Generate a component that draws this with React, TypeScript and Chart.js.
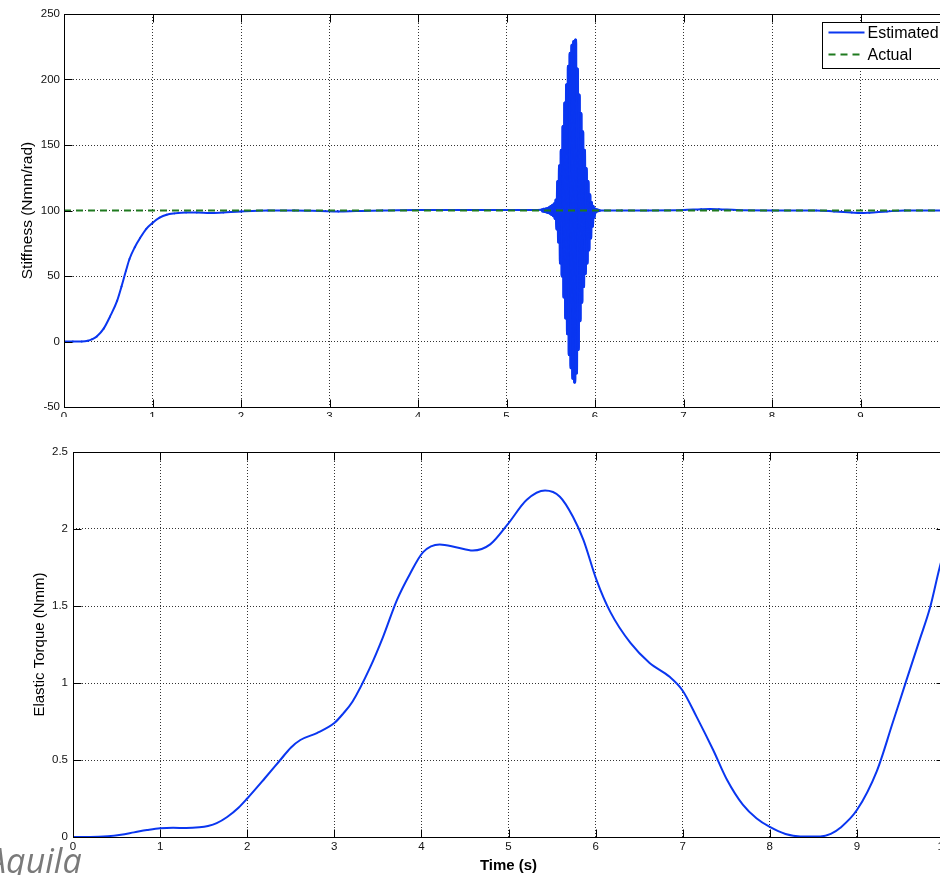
import React, { useEffect, useRef } from "react";
import { Chart, registerables } from "chart.js";

Chart.register(...registerables);

// ---------- tick values & labels ----------
const timeTicks = [0, 1, 2, 3, 4, 5, 6, 7, 8, 9, 10];
const timeTickLabels = ["0", "1", "2", "3", "4", "5", "6", "7", "8", "9", "10"];
const stiffTicks = [-50, 0, 50, 100, 150, 200, 250];
const stiffTickLabels = ["-50", "0", "50", "100", "150", "200", "250"];
const torqueTicks = [0, 0.5, 1, 1.5, 2, 2.5];
const torqueTickLabels = ["0", "0.5", "1", "1.5", "2", "2.5"];

// ---------- top plot: estimated stiffness ----------
const estTime = [
  0, 0.1, 0.2, 0.27, 0.32, 0.37, 0.45, 0.52, 0.6, 0.65, 0.7, 0.74, 0.8, 0.86, 0.93, 1.0, 1.08, 1.16, 1.25, 1.38,
  1.5, 1.65, 1.8, 2.0, 2.3, 2.6, 2.9, 3.1, 3.3, 3.6, 4.0, 4.5, 5.0, 5.3,
  5.40, 5.41, 5.42, 5.43, 5.44, 5.45, 5.46, 5.47, 5.48, 5.49,
  5.50, 5.51, 5.52, 5.53, 5.54, 5.55, 5.56, 5.57, 5.58, 5.59,
  5.60, 5.61, 5.62, 5.63, 5.64, 5.65, 5.66, 5.67, 5.68, 5.69,
  5.70, 5.71, 5.72, 5.73, 5.74, 5.75, 5.76, 5.77, 5.78, 5.79,
  5.80, 5.81, 5.82, 5.83, 5.84, 5.85, 5.86, 5.87, 5.88, 5.89,
  5.90, 5.91, 5.92, 5.93, 5.94, 5.95, 5.96, 5.97, 5.98, 5.99,
  6.00, 6.01, 6.02, 6.03, 6.04, 6.05,
  6.3, 6.6, 7.0, 7.2, 7.3, 7.4, 7.6, 8.0, 8.5, 8.7, 8.9, 9.0, 9.1, 9.3, 9.5, 10,
];
const estStiffness = [
  0, 0, 0, 0.5, 1.8, 3.8, 10, 19, 31, 42, 54, 63, 72, 79, 86, 90.5, 94.5, 96.8, 97.8, 98.5,
  98.5, 98, 98.5, 99.3, 100, 100, 99.6, 99.3, 99.6, 100, 100.3, 100.3, 100.3, 100.3,
  100.5, 99.6, 100.8, 99.3, 101, 99, 101.5, 98.5, 102, 98,
  103, 97, 104, 96, 105, 94, 108, 86, 122, 76,
  134, 60, 146, 50, 164, 34, 182, 18, 196, 6,
  210, -10, 220, -20, 226, -28, 229, -31, 230, -24,
  208, -6, 188, 16, 174, 30, 160, 42, 146, 52,
  132, 60, 122, 70, 112, 79, 106, 88, 103, 95,
  101, 99, 100.5, 99.8, 100.2, 100,
  100, 100, 100.3, 101, 101.2, 101, 100.3, 100, 100, 99.3, 98.4, 98, 98.3, 99.3, 100, 100,
];
const actualTime = [0, 10];
const actualStiffness = [100, 100];

// ---------- bottom plot: elastic torque ----------
const torqueTime = [
  0, 0.2, 0.4, 0.55, 0.7, 0.85, 1.0, 1.15, 1.3, 1.45, 1.55, 1.65, 1.77, 1.9, 2.0, 2.2, 2.38, 2.5,
  2.61, 2.8, 3.0, 3.1, 3.21, 3.41, 3.56, 3.72, 3.87, 4.02, 4.21, 4.41, 4.59, 4.79, 4.99, 5.21,
  5.42, 5.59, 5.74, 5.86, 6.01, 6.17, 6.4, 6.62, 6.85, 7.0, 7.16, 7.35, 7.51, 7.69, 7.85, 8.0,
  8.18, 8.35, 8.58, 8.7, 8.81, 9.0, 9.23, 9.41, 9.57, 9.72, 9.84, 9.95, 10.0,
];
const torqueValue = [
  0, 0, 0.005, 0.015, 0.03, 0.045, 0.057, 0.06, 0.058, 0.063, 0.072, 0.09, 0.13, 0.19, 0.25, 0.38, 0.5, 0.58,
  0.63, 0.675, 0.74, 0.8, 0.88, 1.1, 1.3, 1.54, 1.71, 1.85, 1.9, 1.88, 1.86, 1.9, 2.03, 2.19,
  2.25, 2.21, 2.08, 1.93, 1.67, 1.46, 1.26, 1.13, 1.04, 0.95, 0.78, 0.565, 0.37, 0.21, 0.12, 0.065,
  0.02, 0.004, 0.004, 0.02, 0.06, 0.175, 0.43, 0.74, 1.02, 1.28, 1.49, 1.75, 1.85,
];

// time window of the dense oscillation (drawn with a slightly wider pen so it renders solid)
const burstStart = 5.4;
const burstEnd = 6.05;

const FONT = "'Liberation Sans', Arial, Helvetica, sans-serif";
const BLUE_A = "#0a36f0";
const BLUE_B = "#0a36f1";

const toPoints = (xs: number[], ys: number[]) => xs.map((x, i) => ({ x, y: ys[i] }));

const matlabAxes = {
  id: "matlabAxes",
  afterDatasetsDraw(chart: any) {
    const { ctx, chartArea: a, scales } = chart;
    const xs = scales.x;
    const ys = scales.y;
    const L = Math.round(a.left) + 0.5;
    const R = Math.round(a.right) + 0.5;
    const T = Math.round(a.top) + 0.5;
    const B = Math.round(a.bottom) + 0.5;
    const len = 8;
    ctx.save();
    ctx.setLineDash([]);
    ctx.strokeStyle = "#000";
    ctx.lineWidth = 1;
    ctx.strokeRect(L, T, R - L, B - T);
    ctx.beginPath();
    xs.ticks.forEach((t: any) => {
      const p = Math.round(xs.getPixelForValue(t.value)) + 0.5;
      ctx.moveTo(p, B);
      ctx.lineTo(p, B - len);
      ctx.moveTo(p, T);
      ctx.lineTo(p, T + len);
    });
    ys.ticks.forEach((t: any) => {
      const p = Math.round(ys.getPixelForValue(t.value)) + 0.5;
      ctx.moveTo(L, p);
      ctx.lineTo(L + len, p);
      ctx.moveTo(R, p);
      ctx.lineTo(R - len, p);
    });
    ctx.stroke();
    ctx.restore();
  },
};

const boxLegend = {
  id: "boxLegend",
  afterDraw(chart: any) {
    const { ctx } = chart;
    const sets = chart.data.datasets;
    const bx = 822.5;
    const by = 22.5;
    const bw = 130;
    const bh = 46;
    ctx.save();
    ctx.fillStyle = "#fff";
    ctx.fillRect(bx, by, bw, bh);
    ctx.strokeStyle = "#000";
    ctx.lineWidth = 1;
    ctx.setLineDash([]);
    ctx.strokeRect(bx, by, bw, bh);
    ctx.font = `16px ${FONT}`;
    ctx.textBaseline = "middle";
    ctx.textAlign = "left";
    sets.forEach((ds: any, i: number) => {
      const yy = by + 10 + i * 22;
      ctx.beginPath();
      ctx.strokeStyle = ds.borderColor;
      ctx.lineWidth = 2;
      ctx.setLineDash(ds.borderDash || []);
      ctx.moveTo(bx + 6, yy);
      ctx.lineTo(bx + 42, yy);
      ctx.stroke();
      ctx.setLineDash([]);
      ctx.fillStyle = "#000";
      ctx.fillText(ds.label, bx + 45, yy + 1);
    });
    ctx.restore();
  },
};

function makeTicks(values: number[], labels: string[]) {
  return {
    afterBuildTicks: (scale: any) => {
      scale.ticks = values.map((v) => ({ value: v }));
    },
    labelFor: (value: number) => {
      const i = values.findIndex((v) => Math.abs(v - value) < 1e-9);
      return i >= 0 ? labels[i] : "";
    },
  };
}

function axisBase(min: number, max: number, values: number[], labels: string[], padding: number, size: number, horizontal: boolean) {
  const t = makeTicks(values, labels);
  return {
    type: "linear",
    min,
    max,
    afterBuildTicks: t.afterBuildTicks,
    afterFit: (scale: any) => {
      if (horizontal) scale.height = size;
      else scale.width = size;
    },
    grid: {
      color: "rgba(0,0,0,0.8)",
      lineWidth: 1,
      drawTicks: false,
    },
    border: { display: false, dash: [1, 2] },
    ticks: {
      autoSkip: false,
      maxRotation: 0,
      padding,
      color: "#111",
      font: { family: FONT, size: 11.5 },
      callback: (v: any) => t.labelFor(Number(v)),
    },
  };
}

export default function App() {
  const topRef = useRef<HTMLCanvasElement>(null);
  const botRef = useRef<HTMLCanvasElement>(null);

  useEffect(() => {
    const inBurst = (c: any) => {
      const t0 = estTime[c.p0DataIndex];
      const t1 = estTime[c.p1DataIndex];
      return t0 >= burstStart - 1e-9 && t1 <= burstEnd + 1e-9;
    };
    const top = new Chart(topRef.current as HTMLCanvasElement, {
      type: "line",
      data: {
        datasets: [
          {
            label: "Estimated",
            data: toPoints(estTime, estStiffness),
            borderColor: BLUE_A,
            borderWidth: 2,
            borderCapStyle: "round",
            borderJoinStyle: "round",
            pointRadius: 0,
            cubicInterpolationMode: "monotone",
            fill: false,
            order: 1,
            segment: {
              borderColor: (c: any) => (c.p0DataIndex % 2 ? BLUE_B : BLUE_A),
              borderWidth: (c: any) => (inBurst(c) ? 3.2 : 2),
            },
          } as any,
          {
            label: "Actual",
            data: toPoints(actualTime, actualStiffness),
            borderColor: "#1f7a1f",
            borderWidth: 2,
            borderDash: [7, 5],
            pointRadius: 0,
            tension: 0,
            fill: false,
            order: 0,
          },
        ],
      },
      options: {
        responsive: false,
        animation: false,
        devicePixelRatio: 1,
        parsing: false as any,
        layout: { padding: { left: 0, top: 14, right: 11, bottom: 0 } },
        plugins: { legend: { display: false }, tooltip: { enabled: false } },
        scales: {
          x: axisBase(0, 10, timeTicks, timeTickLabels, 3, 23, true) as any,
          y: {
            ...(axisBase(-50, 250, stiffTicks, stiffTickLabels, 4, 64, false) as any),
            title: {
              display: true,
              text: "Stiffness (Nmm/rad)",
              color: "#000",
              font: { family: FONT, size: 15.5 },
              padding: { top: 18, bottom: 0 },
            },
          },
        },
      },
      plugins: [matlabAxes, boxLegend],
    });

    const bot = new Chart(botRef.current as HTMLCanvasElement, {
      type: "line",
      data: {
        datasets: [
          {
            label: "Elastic Torque",
            data: toPoints(torqueTime, torqueValue),
            borderColor: BLUE_A,
            borderWidth: 2,
            pointRadius: 0,
            cubicInterpolationMode: "monotone",
            fill: false,
          },
        ],
      },
      options: {
        responsive: false,
        animation: false,
        devicePixelRatio: 1,
        parsing: false as any,
        layout: { padding: { left: 0, top: 22, right: 16, bottom: 0 } },
        plugins: { legend: { display: false }, tooltip: { enabled: false } },
        scales: {
          x: {
            ...(axisBase(0, 10, timeTicks, timeTickLabels, 3, 38, true) as any),
            title: {
              display: true,
              text: "Time (s)",
              color: "#000",
              font: { family: FONT, size: 15, weight: "bold" },
              padding: { top: 0, bottom: 0 },
            },
          },
          y: {
            ...(axisBase(0, 2.5, torqueTicks, torqueTickLabels, 5, 73, false) as any),
            title: {
              display: true,
              text: "Elastic Torque (Nmm)",
              color: "#000",
              font: { family: FONT, size: 15 },
              padding: { top: 31, bottom: 0 },
            },
          },
        },
      },
      plugins: [matlabAxes],
    });

    return () => {
      top.destroy();
      bot.destroy();
    };
  }, []);

  return (
    <div
      style={{
        position: "fixed",
        left: 0,
        top: 0,
        width: 940,
        height: 875,
        overflow: "hidden",
        background: "#fff",
      }}
    >
      <div style={{ position: "absolute", left: 0, top: 0, width: 940, height: 417, overflow: "hidden" }}>
        <canvas ref={topRef} width={960} height={430} style={{ display: "block", width: 960, height: 430 }} />
      </div>
      <div style={{ position: "absolute", left: 0, top: 430, width: 940, height: 445, overflow: "hidden" }}>
        <canvas ref={botRef} width={960} height={445} style={{ display: "block", width: 960, height: 445 }} />
      </div>
      <div
        style={{
          position: "absolute",
          left: -13,
          top: 843,
          fontFamily: "'Open Sans', sans-serif",
          fontStyle: "italic",
          fontSize: 34,
          lineHeight: 1,
          color: "#7a7a7a",
          whiteSpace: "nowrap",
        }}
      >
        Aquila
      </div>
    </div>
  );
}
